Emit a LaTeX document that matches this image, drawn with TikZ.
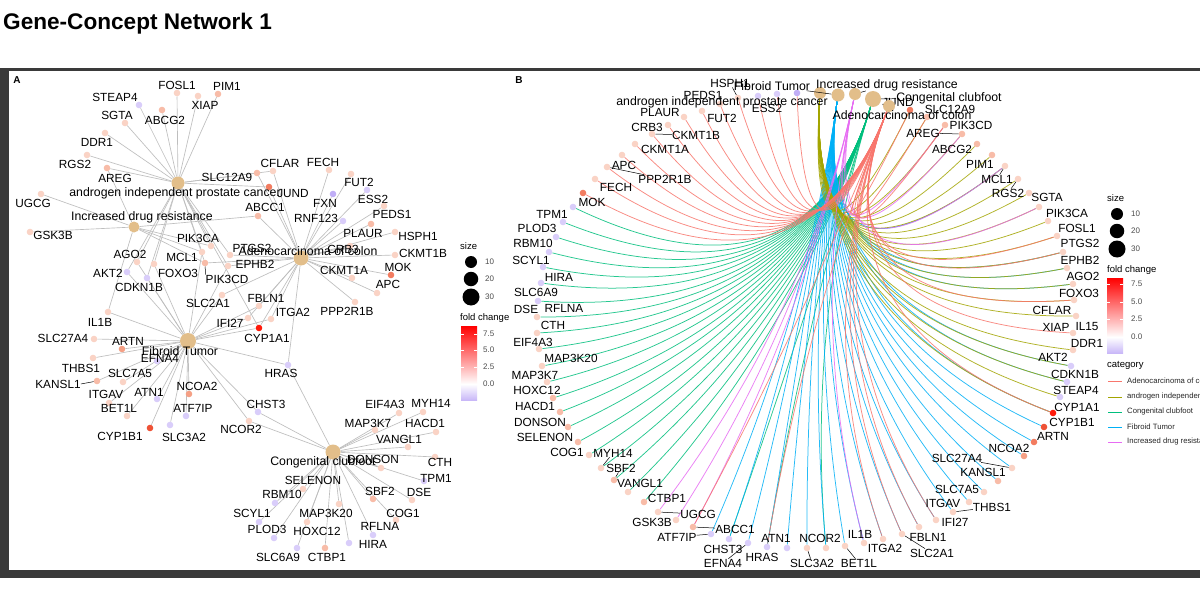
\documentclass[tikz,border=0pt]{standalone}
\usepackage{fontspec}
\setmainfont{Liberation Sans}
\usetikzlibrary{calc}
\pgfdeclarelayer{bgl}
\pgfdeclarelayer{edl}
\pgfsetlayers{bgl,edl,main}
\definecolor{hubc}{RGB}{226,190,138}
\definecolor{egray}{RGB}{190,190,190}
\definecolor{fcA}{HTML}{FAD3C5}
\definecolor{fcB}{HTML}{F8BCA8}
\definecolor{fcC}{HTML}{F5A085}
\definecolor{fcD}{HTML}{F27C60}
\definecolor{fcE}{HTML}{EE5236}
\definecolor{fcF}{HTML}{FF1A0A}
\definecolor{fcP}{HTML}{D9CDFA}
\definecolor{fcQ}{HTML}{C0AEF6}
\definecolor{cAd}{HTML}{F8766D}
\definecolor{cAn}{HTML}{A3A500}
\definecolor{cCo}{HTML}{00BF7D}
\definecolor{cFi}{HTML}{00B0F6}
\definecolor{cIn}{HTML}{E76BF3}
\definecolor{framec}{HTML}{3A3A3A}
\definecolor{tickc}{HTML}{4D4D4D}
\definecolor{lav}{HTML}{C9B8F8}
\tikzset{
 gdot/.style={circle,inner sep=0pt,minimum size=6.6pt},
 hubn/.style={circle,inner sep=0pt,fill=hubc},
 glab/.style={inner sep=0pt,font=\fontsize{11.8}{12}\selectfont},
 hlab/.style={inner sep=0pt,font=\fontsize{12.3}{13}\selectfont},
 edA/.style={draw=egray,line width=0.65pt},
 edB/.style={line width=0.75pt,opacity=0.85},
 leader/.style={draw=black,line width=0.5pt},
 legt/.style={inner sep=0pt,anchor=west,font=\fontsize{9.5}{10}\selectfont},
 legs/.style={inner sep=0pt,anchor=west,text=tickc,font=\fontsize{8}{9}\selectfont},
 lege/.style={inner sep=0pt,anchor=west,text=black!85,font=\fontsize{7.7}{8}\selectfont},
 legdot/.style={circle,inner sep=0pt,fill=black},
 plet/.style={inner sep=0pt,font=\fontsize{10}{10}\selectfont\bfseries},
}
\newcommand\arcB[3]{\foreach \gn in {#3} {\draw[edB,draw=#2] (#1) .. controls ($(#1)!0.667!(ctrB)$) and ($(b\gn)!0.667!(ctrB)$) .. (b\gn);}}
\newcommand\lineA[2]{\foreach \gn in {#2} {\draw[edA] (#1) -- (a\gn);}}
\begin{document}
\begin{tikzpicture}[x=1pt,y=-1pt]
\useasboundingbox (0,0) rectangle (1200,594);
\begin{pgfonlayer}{bgl}
\fill[white] (0,0) rectangle (1200,594);
\fill[framec] (0,68) rectangle (1200,71);
\fill[framec] (0,68) rectangle (9,578);
\fill[framec] (0,570) rectangle (1200,578);
\end{pgfonlayer}
\node[anchor=base west,inner sep=0pt,font=\fontsize{22.6}{24}\selectfont\bfseries] (title) at (3,29.5) {Gene-Concept Network 1};
\node[plet] (pA) at (17,80.5) {A};
\node[plet] (pB) at (519,80) {B};

% ---------------- Panel A ----------------
\node[hubn,minimum size=13pt] (hAndro) at (178,183) {};
\node[hubn,minimum size=11pt] (hInc) at (134,227) {};
\node[hubn,minimum size=15pt] (hAdeno) at (301,258) {};
\node[hubn,minimum size=16pt] (hFib) at (188,341) {};
\node[hubn,minimum size=15pt] (hClub) at (333,452) {};

\foreach \nm/\xx/\yy/\cc/\lx/\ly in {
FOSL1/177/93/fcA/177/85, PIM1/218/94/fcB/227/86, XIAP/198/96/fcA/205/105,
STEAP4/139/105/fcP/115/97, SGTA/125/123/fcA/117/115, ABCG2/162/110/fcB/165/120,
DDR1/105/133/fcA/97/142, RGS2/87/155/fcA/75/164, AREG/107/168/fcB/115/178,
SLC12A9/257/173/fcB/227/177, UGCG/41/194/fcA/33/203, GSK3B/30/232/fcA/53/235,
ABCC1/258/216/fcB/265/207, PIK3CA/211/246/fcA/198/238, PTGS2/230/255/fcA/252/248,
CFLAR/273/171/fcA/280/163, FECH/329/170/fcA/323/162, FUT2/351/174/fcA/359/182,
FXN/333/194/fcQ/325/203, JUND/269/187/fcD/293/193, ESS2/367/190/fcP/373/199,
RNF123/343/221/fcP/316/218, PEDS1/384/206/fcA/392/214, PLAUR/371/224/fcB/363/233,
HSPH1/395/232/fcA/418/236, CKMT1B/395/255/fcA/423/253, CKMT1A/352/278/fcA/344/270,
MOK/391/275/fcD/398/267, APC/377/293/fcA/388/284, PPP2R1B/355/302/fcA/347/311,
CRB3/350/246/fcA/343/249, EPHB2/228/266/fcA/255/264, AGO2/137/262/fcA/130/254,
MCL1/202/252/fcA/182/257, FOXO3/154/264/fcA/178/273, PIK3CD/205/263/fcB/227/279,
AKT2/127/272/fcP/108/273, CDKN1B/147/278/fcP/139/287, SLC2A1/222/295/fcA/208/303,
FBLN1/259/306/fcA/266/298, ITGA2/271/319/fcA/293/312, IFI27/248/318/fcA/230/323,
CYP1A1/259/328/fcF/267/338, IL1B/108/312/fcA/100/322, SLC27A4/94/339/fcA/63/338,
ARTN/122/349/fcC/128/341, EFNA4/157/361/fcP/160/358, THBS1/93/358/fcA/81/368,
SLC7A5/123/382/fcA/130/373, KANSL1/97/381/fcB/58/384, ITGAV/109/403/fcA/106/394,
ATN1/157/399/fcP/149/392, NCOA2/189/394/fcC/197/386, BET1L/127/416/fcA/119/408,
ATF7IP/186/416/fcP/193/408, CYP1B1/150/428/fcE/120/436, SLC3A2/170/425/fcP/184/437,
HRAS/288/365/fcP/281/373, CHST3/258/412/fcP/266/404, NCOR2/249/421/fcA/241/429,
EIF4A3/399/413/fcA/385/404, MYH14/423/412/fcA/431/403, MAP3K7/375/430/fcA/368/423,
HACD1/436/432/fcA/425/423, VANGL1/408/447/fcA/399/439, DONSON/381/468/fcA/373/459,
CTH/435/457/fcA/440/462, TPM1/424/481/fcP/436/478, SELENON/303/489/fcA/313/480,
SBF2/373/499/fcB/380/491, DSE/412/500/fcA/419/492, RBM10/275/503/fcP/282/494,
MAP3K20/339/504/fcA/326/513, COG1/396/520/fcA/403/513, SCYL1/259/522/fcP/252/513,
HOXC12/307/522/fcA/317/531, RFLNA/373/535/fcP/380/526, PLOD3/274/538/fcP/267/529,
HIRA/349/543/fcP/373/544, SLC6A9/297/548/fcP/278/557, CTBP1/325/548/fcB/327/557}
{\node[gdot,fill=\cc] (a\nm) at (\xx,\yy) {};
 \node[glab] (la\nm) at (\lx,\ly) {\nm};}

\node[hlab] (lhAndro) at (175,193) {androgen independent prostate cancer};
\node[hlab] (lhInc) at (142,217) {Increased drug resistance};
\node[hlab] (lhAdeno) at (308,251) {Adenocarcinoma of colon};
\node[hlab] (lhFib) at (180,351) {Fibroid Tumor};
\node[hlab] (lhClub) at (323,462) {Congenital clubfoot};
\draw[leader] (laKANSL1.east) -- (aKANSL1);
\draw[leader] (aPIK3CD) -- (laPIK3CD.north west);

\begin{pgfonlayer}{edl}
\lineA{hAndro}{FOSL1,PIM1,XIAP,STEAP4,SGTA,ABCG2,DDR1,RGS2,AREG,SLC12A9,CFLAR,JUND,PTGS2,PIK3CA,MCL1,AGO2,FOXO3,AKT2,CDKN1B,EPHB2,CYP1A1,PIK3CD}
\lineA{hInc}{UGCG,GSK3B,AREG,ABCC1,PIK3CA,PIK3CD,MCL1,IL1B}
\lineA{hAdeno}{CFLAR,FECH,FUT2,FXN,ESS2,RNF123,PEDS1,PLAUR,HSPH1,CKMT1B,CKMT1A,MOK,APC,PPP2R1B,CRB3,JUND,SLC12A9,PTGS2,EPHB2,PIK3CD,FBLN1,ITGA2,IFI27,CYP1A1,SLC2A1,HRAS,ABCC1}
\lineA{hFib}{AKT2,CDKN1B,AGO2,FOXO3,IL1B,SLC27A4,ARTN,EFNA4,THBS1,KANSL1,SLC7A5,ITGAV,ATN1,NCOA2,BET1L,ATF7IP,CYP1B1,SLC3A2,IFI27,SLC2A1,FBLN1,ITGA2,HRAS,CYP1A1,NCOR2,MCL1,EPHB2,CHST3}
\lineA{hClub}{HRAS,CHST3,NCOR2,EIF4A3,MYH14,MAP3K7,HACD1,VANGL1,DONSON,CTH,TPM1,SELENON,SBF2,DSE,RBM10,MAP3K20,COG1,SCYL1,HOXC12,RFLNA,PLOD3,HIRA,SLC6A9,CTBP1}
\end{pgfonlayer}

% legend A
\node[legt] (sizeA) at (460,246) {size};
\node[legdot,minimum size=12pt] (sA1) at (471,262) {};
\node[legdot,minimum size=14.5pt] (sA2) at (471,279) {};
\node[legdot,minimum size=17pt] (sA3) at (471,297) {};
\node[legs] (sA1l) at (485,262) {10};
\node[legs] (sA2l) at (485,279) {20};
\node[legs] (sA3l) at (485,297) {30};
\node[legt] (fcTA) at (460,318) {fold change};
\shade[top color=red,bottom color=white] (461,326) rectangle (477,384);
\shade[top color=white,bottom color=lav] (461,384) rectangle (477,400);
\foreach \ty/\tl in {334/7.5,350/5.0,367/2.5,384/0.0}{
 \draw[white,line width=0.5pt] (461,\ty) -- (464,\ty) (474,\ty) -- (477,\ty);
 \node[legs] (tA\ty) at (483,\ty) {\tl};}

% ---------------- Panel B ----------------
\coordinate (ctrB) at (806,318);
\foreach \nm/\xx/\yy/\cc/\lx/\ly in {
JUND/910/110/fcD/898/102, SLC12A9/927/117/fcB/950/109, PIK3CD/945/125/fcB/971/125,
AREG/962/134/fcB/923/133, ABCG2/977/144/fcB/952/149, PIM1/992/155/fcB/980/164,
MCL1/1005/166/fcA/997/179, RGS2/1018/179/fcA/1008/193, SGTA/1029/193/fcA/1047/197,
PIK3CA/1039/207/fcA/1067/213, FOSL1/1048/221/fcA/1077/228, PTGS2/1057/236/fcA/1080/243,
EPHB2/1063/252/fcA/1080/260, AGO2/1067/268/fcA/1083/276, FOXO3/1073/284/fcA/1079/293,
CFLAR/1074/300/fcA/1052/310, XIAP/1076/316/fcA/1056/327, IL15/1073/333/fcA/1087/326,
DDR1/1073/350/fcA/1087/343, AKT2/1071/366/fcP/1053/357, CDKN1B/1067/382/fcP/1075/374,
STEAP4/1060/397/fcP/1076/390, CYP1A1/1053/413/fcF/1077/407, CYP1B1/1044/427/fcE/1072/422,
ARTN/1034/442/fcD/1053/436, NCOA2/1024/456/fcC/1009/448, SLC27A4/1012/468/fcA/957/458,
KANSL1/998/481/fcB/983/472, SLC7A5/984/492/fcA/957/489, ITGAV/969/502/fcA/943/503,
THBS1/953/512/fcA/992/507, IFI27/936/520/fcA/955/522, FBLN1/919/527/fcA/928/537,
SLC2A1/902/534/fcA/932/553, ITGA2/883/539/fcA/885/548, IL1B/864/543/fcA/860/534,
BET1L/845/546/fcA/859/563, NCOR2/826/548/fcA/820/538, SLC3A2/807/548/fcA/812/563,
ATN1/787/548/fcP/776/538, HRAS/767/547/fcP/762/557, EFNA4/748/543/fcP/723/563,
CHST3/729/539/fcP/723/549, ATF7IP/711/534/fcP/677/537, ABCC1/693/527/fcB/735/529,
GSK3B/676/520/fcA/652/522, UGCG/658/512/fcA/698/514, CTBP1/644/502/fcB/667/498,
VANGL1/628/492/fcA/640/483, SBF2/614/480/fcB/621/468, MYH14/601/468/fcA/613/453,
COG1/589/455/fcA/567/452, SELENON/578/442/fcB/545/437, DONSON/568/427/fcB/540/422,
HACD1/560/412/fcB/535/406, HOXC12/553/398/fcB/537/390, MAP3K7/547/382/fcA/535/375,
MAP3K20/542/366/fcA/571/358, EIF4A3/539/349/fcA/533/342, CTH/537/333/fcA/553/325,
DSE/537/317/fcA/526/309, RFLNA/538/301/fcP/564/308, SLC6A9/541/283/fcP/536/292,
HIRA/543/267/fcP/559/277, SCYL1/549/252/fcP/531/260, RBM10/556/237/fcP/533/243,
PLOD3/563/222/fcP/537/228, TPM1/573/207/fcP/552/214, MOK/583/193/fcD/592/202,
FECH/595/179/fcA/616/187, PPP2R1B/607/167/fcA/665/179, APC/622/155/fcA/624/165,
CKMT1A/635/144/fcA/665/149, CKMT1B/652/134/fcA/696/135, CRB3/668/125/fcA/647/127,
PLAUR/684/117/fcA/660/112, FUT2/702/111/fcA/722/118, PEDS1/720/104/fcA/703/95,
HSPH1/738/98/fcA/730/83, ESS2/758/96/fcP/767/108}
{\node[gdot,fill=\cc] (b\nm) at (\xx,\yy) {};
 \node[glab] (lb\nm) at (\lx,\ly) {\nm};}
\node[gdot,fill=fcP] (bRNF123) at (777,94) {};
\node[gdot,fill=fcQ] (bFXN) at (797,93) {};

\node[hubn,minimum size=12pt] (bhAndro) at (820,93) {};
\node[hubn,minimum size=13pt] (bhFib) at (838,95) {};
\node[hubn,minimum size=12pt] (bhInc) at (855,94) {};
\node[hubn,minimum size=16pt] (bhClub) at (873,99) {};
\node[hubn,minimum size=12pt] (bhAdeno) at (889,106) {};
\node[hlab] (lbhAndro) at (722,102) {androgen independent prostate cancer};
\node[hlab] (lbhFib) at (772,86) {Fibroid Tumor};
\node[hlab] (lbhInc) at (887,85) {Increased drug resistance};
\node[hlab] (lbhClub) at (949,98) {Congenital clubfoot};
\node[hlab] (lbhAdeno) at (902,115) {Adenocarcinoma of colon};

\foreach \gn in {HSPH1,AREG,MCL1,RGS2,CKMT1B,PPP2R1B,SLC27A4,THBS1,SLC2A1,BET1L,SLC3A2,EFNA4,ATF7IP,ABCC1,UGCG,SBF2,MYH14}
 {\draw[leader] (lb\gn) -- (b\gn);}
\draw[leader] (lbhInc) -- (bhInc);
\draw[leader] (lbhClub) -- (bhClub);
\draw[leader] (lbhFib) -- (bhFib);

\begin{pgfonlayer}{edl}
\arcB{bhClub}{cCo}{HRAS,CHST3,NCOR2,CTBP1,VANGL1,SBF2,MYH14,COG1,SELENON,DONSON,HACD1,HOXC12,MAP3K7,MAP3K20,EIF4A3,CTH,DSE,RFLNA,SLC6A9,HIRA,SCYL1,RBM10,PLOD3,TPM1}
\arcB{bhFib}{cFi}{AGO2,FOXO3,AKT2,CDKN1B,CYP1A1,CYP1B1,ARTN,NCOA2,SLC27A4,KANSL1,SLC7A5,ITGAV,THBS1,IFI27,FBLN1,SLC2A1,ITGA2,IL1B,BET1L,NCOR2,SLC3A2,ATN1,HRAS,EFNA4,CHST3,ATF7IP,MCL1,EPHB2}
\arcB{bhAndro}{cAn}{JUND,SLC12A9,AREG,ABCG2,PIM1,MCL1,RGS2,SGTA,PIK3CA,FOSL1,PTGS2,EPHB2,AGO2,FOXO3,CFLAR,XIAP,DDR1,AKT2,CDKN1B,STEAP4,CYP1A1,PIK3CD}
\arcB{bhInc}{cIn}{AREG,PIK3CD,MCL1,PIK3CA,UGCG,GSK3B,ABCC1,IL1B}
\arcB{bhAdeno}{cAd}{JUND,SLC12A9,PIK3CD,PTGS2,EPHB2,CFLAR,IL15,CYP1A1,IFI27,FBLN1,SLC2A1,ITGA2,HRAS,ABCC1,MOK,FECH,PPP2R1B,APC,CKMT1A,CKMT1B,CRB3,PLAUR,FUT2,PEDS1,HSPH1,ESS2,RNF123,FXN}
\end{pgfonlayer}

% legend B
\node[legt] (sizeB) at (1107,198) {size};
\node[legdot,minimum size=12pt] (sB1) at (1117,214) {};
\node[legdot,minimum size=14.5pt] (sB2) at (1117,231) {};
\node[legdot,minimum size=17pt] (sB3) at (1117,249) {};
\node[legs] (sB1l) at (1131,214) {10};
\node[legs] (sB2l) at (1131,231) {20};
\node[legs] (sB3l) at (1131,249) {30};
\node[legt] (fcTB) at (1107,270) {fold change};
\shade[top color=red,bottom color=white] (1107,278) rectangle (1123,337);
\shade[top color=white,bottom color=lav] (1107,337) rectangle (1123,353);
\foreach \ty/\tl in {284/7.5,302/5.0,319/2.5,337/0.0}{
 \draw[white,line width=0.5pt] (1107,\ty) -- (1110,\ty) (1120,\ty) -- (1123,\ty);
 \node[legs] (tB\ty) at (1131,\ty) {\tl};}
\node[legt] (catB) at (1107,365) {category};
\foreach \ky/\kc/\kt in {381/cAd/Adenocarcinoma of colon,397/cAn/androgen independent prostate cancer,412/cCo/Congenital clubfoot,427/cFi/Fibroid Tumor,442/cIn/Increased drug resistance}{
 \coordinate (kS\ky) at (1108,\ky);
 \coordinate (kE\ky) at (1122,\ky);
 \draw[\kc,line width=0.9pt] (kS\ky) -- (kE\ky);
 \node[lege] (kT\ky) at (1127,\ky) {\kt};}
\end{tikzpicture}
\end{document}
